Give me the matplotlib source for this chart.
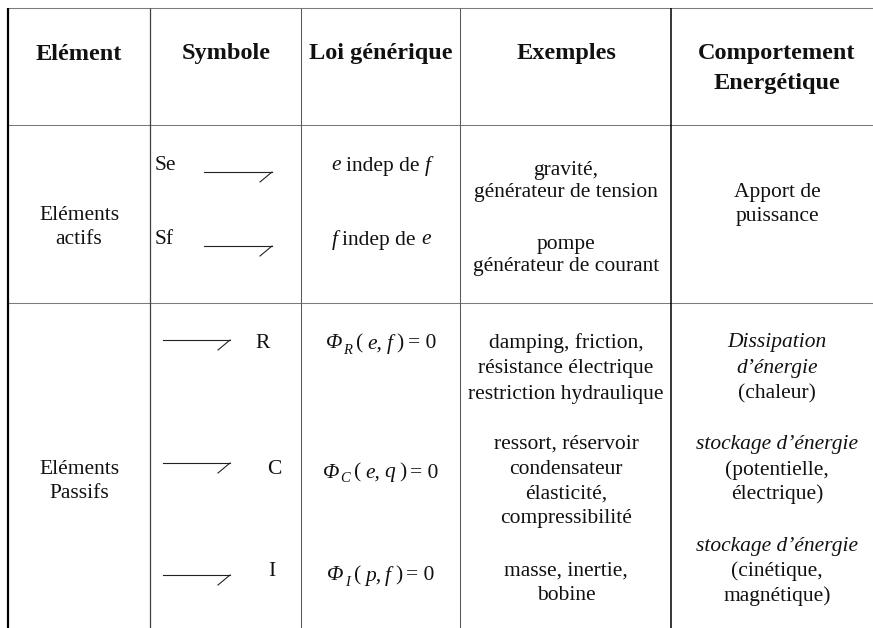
import matplotlib
matplotlib.use('Agg')
import matplotlib.pyplot as plt

# ---------------- data ----------------
headers = ["Elément", "Symbole", "Loi générique", "Exemples", "Comportement\nEnergétique"]
groups = ["Eléments\nactifs", "Eléments\nPassifs"]
sources = ["Se", "Sf"]
passives = ["R", "C", "I"]
laws_active = [[("e", "i"), ("indep de", "r"), ("f", "i")],
               [("f", "i"), ("indep de", "r"), ("e", "i")]]
laws_passive = [[("Φ", "i"), ("R", "sub"), ("(", "r"), ("e,", "i"), ("f", "i"), (")", "r"), ("= 0", "r")],
                [("Φ", "i"), ("C", "sub"), ("(", "r"), ("e,", "i"), ("q", "i"), (")", "r"), ("= 0", "r")],
                [("Φ", "i"), ("I", "sub"), ("(", "r"), ("p,", "i"), ("f", "i"), (")", "r"), ("= 0", "r")]]
examples_active = [["gravité,", "générateur de tension"],
                   ["pompe", "générateur de courant"]]
examples_passive = [["damping, friction,", "résistance électrique", "restriction hydraulique"],
                    ["ressort, réservoir", "condensateur", "élasticité,", "compressibilité"],
                    ["masse, inertie,", "bobine"]]
behaviour_active = ["Apport de", "puissance"]
behaviour_passive = [[("Dissipation", True), ("d’énergie", True), ("(chaleur)", False)],
                     [("stockage d’énergie", True), ("(potentielle,", False), ("électrique)", False)],
                     [("stockage d’énergie", True), ("(cinétique,", False), ("magnétique)", False)]]

# ---------------- layout ----------------
W, H = 873, 628
FONT = "Liberation Serif"
BODY = 15.5
HEAD = 17.5

fig = plt.figure(figsize=(W / 100, H / 100), dpi=100)
ax = fig.add_axes([0, 0, 1, 1])
ax.set_xlim(0, W)
ax.set_ylim(H, 0)
ax.axis('off')

col_c = [79, 226, 381, 566, 777]
lw1 = 0.75

# grid lines
for y in [8, 124.5, 303]:
    ax.plot([8, W], [y, y], color="#7a7a7a", lw=lw1, solid_capstyle='butt')
ax.plot([8, 8], [8, H], color="#000000", lw=1.6, solid_capstyle='butt')
ax.plot([150, 150], [8, H], color="#404040", lw=lw1 * 1.2, solid_capstyle='butt')
ax.plot([301, 301], [8, H], color="#5a5a5a", lw=lw1, solid_capstyle='butt')
ax.plot([460, 460], [8, H], color="#5a5a5a", lw=lw1, solid_capstyle='butt')
ax.plot([671, 671], [8, H], color="#000000", lw=1.1, solid_capstyle='butt')

def txt(x, y, s, ha='center', italic=False, bold=False, size=BODY):
    ax.text(x, y, s, ha=ha, va='center', family=FONT, fontsize=size,
            fontstyle='italic' if italic else 'normal',
            fontweight='bold' if bold else 'normal', color='#111111')

# headers
head_y = 54
for i, h in enumerate(headers):
    for k, line in enumerate(h.split("\n")):
        txt(col_c[i], head_y + 30 * k, line, bold=True, size=HEAD)

# group labels
for lab, y0 in zip(groups, [216, 470]):
    for k, line in enumerate(lab.split("\n")):
        txt(col_c[0], y0 + 24 * k, line)

# bond symbols
def bond(x0, x1, y):
    ax.plot([x0, x1], [y, y], color="#222222", lw=0.8)
    ax.plot([x1, x1 - 12], [y, y + 10], color="#222222", lw=0.8)

src_y = [166, 240]
for s, y in zip(sources, src_y):
    txt(155, y, s, ha='left')
    bond(204, 272, y + 6)

pas_y = [344, 470, 572]
pas_x = [263, 274, 272]
bond_y = [340, 463, 575]
for s, y, x, by in zip(passives, pas_y, pas_x, bond_y):
    txt(x, y, s)
    bond(163, 230, by)

# mixed-style runs
fig.canvas.draw()
renderer = fig.canvas.get_renderer()

def runs(xc, y, parts, gap=5):
    items = []
    for s, st in parts:
        size = BODY * 0.68 if st == "sub" else BODY
        dy = 6 if st == "sub" else 0
        t = ax.text(0, y + dy, s, ha='left', va='center', family=FONT, fontsize=size,
                    fontstyle='italic' if st in ("i", "sub") else 'normal', color='#111111')
        w = t.get_window_extent(renderer).width
        items.append((t, w, st))
    gaps = []
    for idx in range(1, len(items)):
        gaps.append(1 if items[idx][2] == "sub" else gap)
    total = sum(w for _, w, _ in items) + sum(gaps)
    x = xc - total / 2
    for idx, (t, w, st) in enumerate(items):
        t.set_x(x)
        x += w + (gaps[idx] if idx < len(gaps) else 0)

for parts, y in zip(laws_active, src_y):
    runs(col_c[2], y, parts, gap=5)

law_y = [344, 473, 576]
for parts, y in zip(laws_passive, law_y):
    runs(col_c[2], y, parts, gap=4)

# examples
ex_act_y = [[171, 193], [244, 266]]
for lines, ys in zip(examples_active, ex_act_y):
    for line, y in zip(lines, ys):
        txt(col_c[3], y, line)

ex_pas_y = [[343, 369, 394], [444, 470, 494, 519], [571, 596]]
for lines, ys in zip(examples_passive, ex_pas_y):
    for line, y in zip(lines, ys):
        txt(col_c[3], y, line)

# behaviour
for line, y in zip(behaviour_active, [193, 216]):
    txt(col_c[4], y, line)

beh_y = [[343, 369, 394], [444, 470, 494], [546, 571, 596]]
for lines, ys in zip(behaviour_passive, beh_y):
    for (line, it), y in zip(lines, ys):
        txt(col_c[4], y, line, italic=it)

fig.savefig("out.png", dpi=100, facecolor='white')
